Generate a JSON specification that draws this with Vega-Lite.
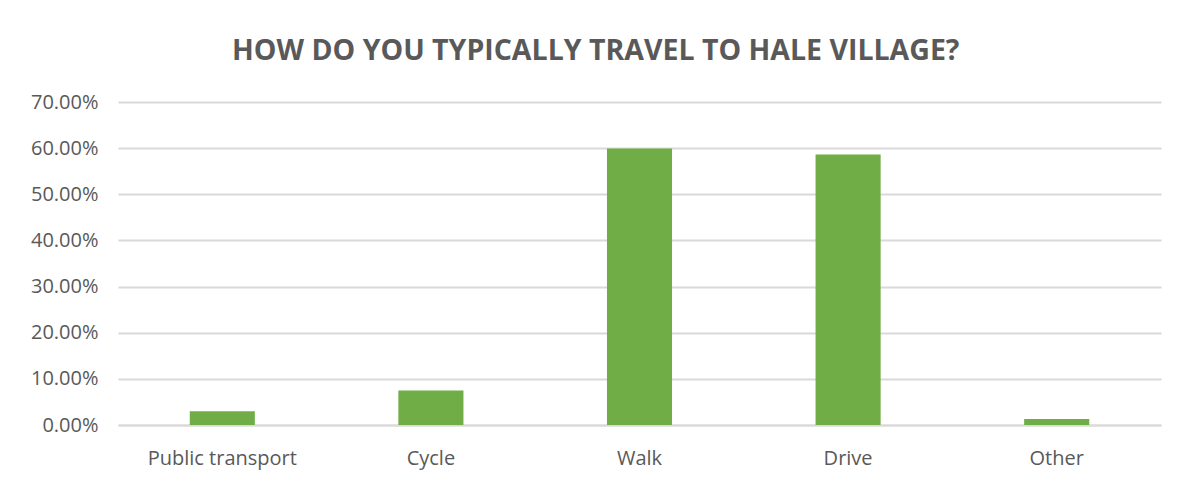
{
  "$schema": "https://vega.github.io/schema/vega-lite/v6.json",
  "width": 1187,
  "height": 483,
  "autosize": {"type": "fit", "contains": "padding"},
  "padding": {"left": 30, "right": 26, "top": 36, "bottom": 15},
  "background": "white",
  "title": {
    "text": "HOW DO YOU TYPICALLY TRAVEL TO HALE VILLAGE?",
    "font": "Open Sans",
    "fontSize": 28.5,
    "fontWeight": "bold",
    "color": "#595959",
    "anchor": "middle",
    "frame": "bounds",
    "offset": 27
  },
  "data": {
    "values": [
      {"mode": "Public transport", "share": 0.030},
      {"mode": "Cycle", "share": 0.075},
      {"mode": "Walk", "share": 0.599},
      {"mode": "Drive", "share": 0.586},
      {"mode": "Other", "share": 0.013}
    ]
  },
  "mark": {"type": "bar", "color": "#70AD47"},
  "encoding": {
    "x": {
      "field": "mode",
      "type": "nominal",
      "sort": null,
      "scale": {"paddingInner": 0.688, "paddingOuter": 0.344},
      "axis": {
        "title": null,
        "labelAngle": 0,
        "labelFont": "Open Sans",
        "labelFontSize": 20,
        "labelColor": "#595959",
        "labelPadding": 23,
        "ticks": false,
        "domainColor": "#d9d9d9",
        "domainWidth": 2
      }
    },
    "y": {
      "field": "share",
      "type": "quantitative",
      "scale": {"domain": [0, 0.7]},
      "axis": {
        "title": null,
        "values": [0, 0.1, 0.2, 0.3, 0.4, 0.5, 0.6, 0.7],
        "format": ".2%",
        "labelFont": "Open Sans",
        "labelFontSize": 20,
        "labelColor": "#595959",
        "labelPadding": 20,
        "ticks": false,
        "domain": false,
        "gridColor": "#d9d9d9",
        "gridWidth": 2
      }
    }
  },
  "config": {"view": {"stroke": null}}
}
